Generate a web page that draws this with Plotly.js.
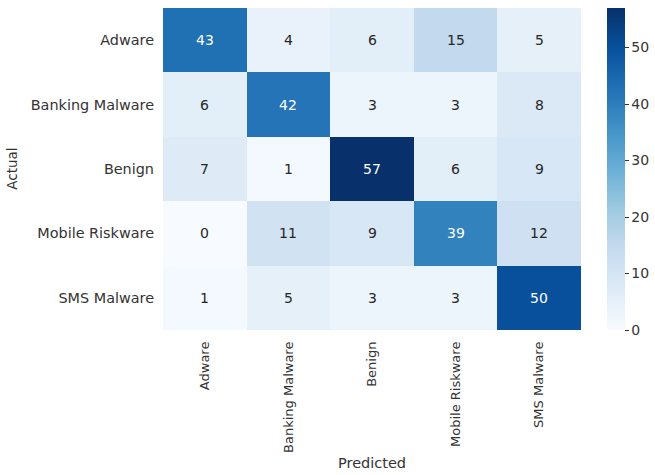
<!DOCTYPE html>
<html>
<head>
<meta charset="utf-8">
<script src="https://cdn.plot.ly/plotly-3.0.1.min.js"></script>
<style>
  html, body { margin: 0; padding: 0; background: #fff; }
  #chart { width: 655px; height: 475px; }
</style>
</head>
<body>
<div id="chart"></div>
<script>
// Class labels (rows = actual, columns = predicted)
const classes = ["Adware", "Banking Malware", "Benign", "Mobile Riskware", "SMS Malware"];

// Confusion matrix counts, one array per actual class
const adwareRow   = [43, 4, 6, 15, 5];
const bankingRow  = [6, 42, 3, 3, 8];
const benignRow   = [7, 1, 57, 6, 9];
const riskwareRow = [0, 11, 9, 39, 12];
const smsRow      = [1, 5, 3, 3, 50];

const counts = [adwareRow, bankingRow, benignRow, riskwareRow, smsRow];

// Colorbar ticks
const cbarTicks = [0, 10, 20, 30, 40, 50];

// ColorBrewer "Blues" sequential scale
const blues = [
  [0.000, "#f7fbff"],
  [0.125, "#deebf7"],
  [0.250, "#c6dbef"],
  [0.375, "#9ecae1"],
  [0.500, "#6baed6"],
  [0.625, "#4292c6"],
  [0.750, "#2171b5"],
  [0.875, "#08519c"],
  [1.000, "#08306b"]
];

const zMin = 0;
const zMax = Math.max(...counts.flat());
const fontFamily = "DejaVu Sans, sans-serif";
const textColor = "#333333";

// Cell annotations: white text on dark cells, dark text on light cells
const annotations = [];
counts.forEach((row, i) => {
  row.forEach((v, j) => {
    annotations.push({
      x: classes[j], y: classes[i], xref: "x", yref: "y",
      text: String(v), showarrow: false,
      font: { family: fontFamily, size: 14, color: (v - zMin) / (zMax - zMin) > 0.55 ? "#ffffff" : "#262626" }
    });
  });
});

// Axis titles placed in the margins
annotations.push({
  text: "Predicted", xref: "paper", yref: "paper", x: 0.5, y: -0.412,
  xanchor: "center", yanchor: "middle", showarrow: false,
  font: { family: fontFamily, size: 14.5, color: textColor }
});
annotations.push({
  text: "Actual", xref: "paper", yref: "paper", x: -0.362, y: 0.5,
  xanchor: "center", yanchor: "middle", showarrow: false, textangle: -90,
  font: { family: fontFamily, size: 13.5, color: textColor }
});

const trace = {
  type: "heatmap",
  x: classes,
  y: classes,
  z: counts,
  zmin: zMin,
  zmax: zMax,
  colorscale: blues,
  showscale: true,
  hoverongaps: false,
  colorbar: {
    x: 1.062, xanchor: "left", xref: "paper", xpad: 0,
    y: 0.5, yanchor: "middle", ypad: 0,
    len: 1, lenmode: "fraction",
    thickness: 18, thicknessmode: "pixels",
    outlinewidth: 0,
    tickvals: cbarTicks,
    ticks: "outside", ticklen: 4, tickwidth: 1, tickcolor: textColor,
    tickfont: { family: fontFamily, size: 14, color: textColor }
  }
};

const layout = {
  width: 655, height: 475,
  margin: { l: 163, r: 74, t: 8, b: 145, autoexpand: false },
  paper_bgcolor: "#fff", plot_bgcolor: "#fff",
  font: { family: fontFamily, size: 12, color: textColor },
  xaxis: {
    type: "category",
    categoryorder: "array", categoryarray: classes,
    tickangle: -90, automargin: false,
    ticks: "", showgrid: false, zeroline: false, showline: false,
    ticklabelstandoff: 8,
    tickfont: { family: fontFamily, size: 13, color: textColor }
  },
  yaxis: {
    type: "category",
    categoryorder: "array", categoryarray: classes,
    autorange: "reversed", automargin: false,
    ticks: "", showgrid: false, zeroline: false, showline: false,
    ticklabelstandoff: 8,
    tickfont: { family: fontFamily, size: 14.4, color: textColor }
  },
  annotations: annotations
};

Plotly.newPlot("chart", [trace], layout, { displayModeBar: false, staticPlot: true });
</script>
</body>
</html>
